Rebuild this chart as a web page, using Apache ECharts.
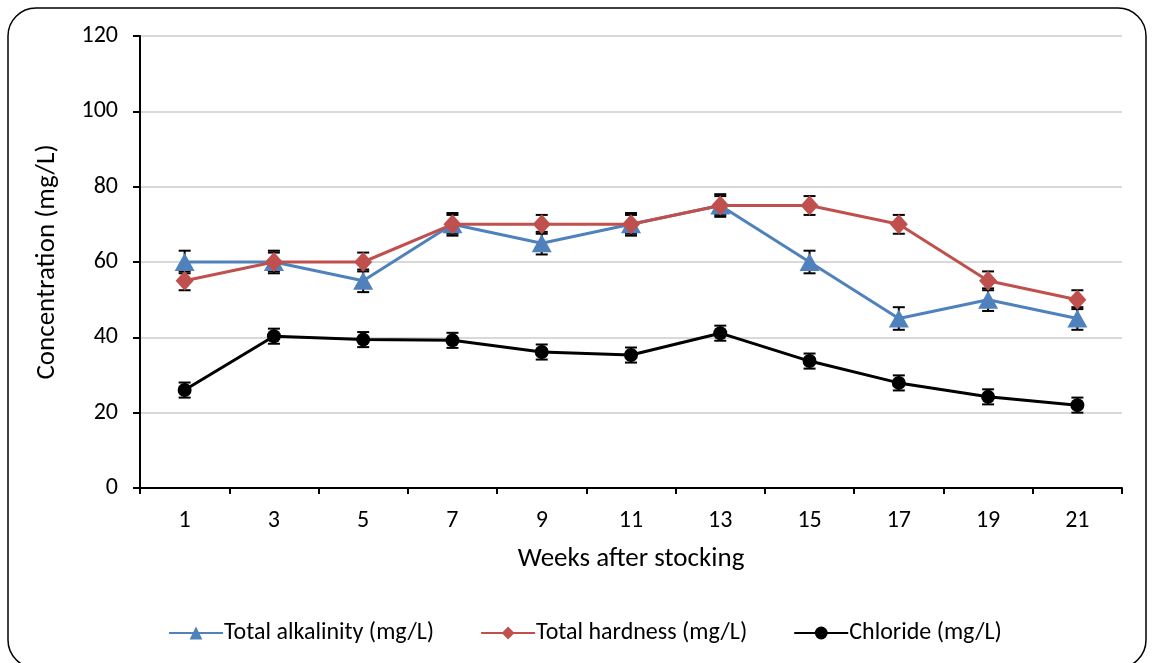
<!DOCTYPE html>
<html><head><meta charset="utf-8">
<script src="https://cdn.jsdelivr.net/npm/echarts@6/dist/echarts.min.js"></script>
<style>html,body{margin:0;padding:0;background:#fff}#c{width:1154px;height:663px}</style>
</head><body><div id="c"></div>
<script>
const weeks = ['1','3','5','7','9','11','13','15','17','19','21'];
const alkalinity = [60,60,55,70,65,70,75,60,45,50,45];
const alkalinityErr = [3,3,3,3,3,3,3,3,3,3,3];
const hardness = [55,60,60,70,70,70,75,75,70,55,50];
const hardnessErr = [2.5,2.5,2.5,2.5,2.5,2.5,2.5,2.5,2.5,2.5,2.5];
const chloride = [26.0,40.3,39.4,39.2,36.1,35.3,41.1,33.7,27.9,24.2,22.0];
const chlorideErr = [2,2,2,2,2,2,2,2,2,2,2];
const yTicks = [0,20,40,60,80,100,120];

const FONT = "Carlito, 'Open Sans', 'Noto Sans', sans-serif";

function errSeries(vals, errs, z){
  return {
    type:'custom', z:z, silent:true,
    data: vals.map((v,i)=>[i, v-errs[i], v+errs[i]]),
    renderItem: function(params, api){
      const lo = api.coord([api.value(0), api.value(1)]);
      const hi = api.coord([api.value(0), api.value(2)]);
      const w = 6;
      const st = {stroke:'#000', lineWidth:2};
      return {type:'group', children:[
        {type:'line', shape:{x1:lo[0],y1:lo[1],x2:hi[0],y2:hi[1]}, style:st},
        {type:'line', shape:{x1:lo[0]-w,y1:lo[1],x2:lo[0]+w,y2:lo[1]}, style:st},
        {type:'line', shape:{x1:hi[0]-w,y1:hi[1],x2:hi[0]+w,y2:hi[1]}, style:st}
      ]};
    }
  };
}

const chart = echarts.init(document.getElementById('c'));
chart.setOption({
  animation:false,
  textStyle:{fontFamily:FONT},
  graphic:[{type:'rect', shape:{x:8,y:8,width:1138,height:660,r:28}, style:{fill:'none', stroke:'#000', lineWidth:1.5}, z:-10}],
  grid:{left:140, right:32, top:36, bottom:175},
  legend:{
    data:['Total alkalinity (mg/L)','Total hardness (mg/L)','Chloride (mg/L)'],
    left:163, top:616, itemWidth:54, itemHeight:16, itemGap:46,
    textStyle:{fontSize:24, color:'#000', fontFamily:FONT, padding:[0,0,0,-4]}
  },
  xAxis:{
    type:'category', data:weeks, boundaryGap:true,
    name:'Weeks after stocking', nameLocation:'middle', nameGap:58,
    nameTextStyle:{fontSize:27, color:'#000', fontFamily:FONT},
    axisLine:{lineStyle:{color:'#000', width:2}},
    axisTick:{show:true, length:6, lineStyle:{color:'#000', width:2}},
    axisLabel:{fontSize:24, color:'#000', margin:21, fontFamily:FONT},
    splitLine:{show:false}
  },
  yAxis:{
    type:'value', min:0, max:120, interval:20,
    name:'Concentration (mg/L)', nameLocation:'middle', nameGap:79, nameRotate:90,
    nameTextStyle:{fontSize:27, color:'#000', fontFamily:FONT},
    axisLine:{show:true, lineStyle:{color:'#000', width:2}},
    axisTick:{show:true, length:7, lineStyle:{color:'#000', width:2}},
    axisLabel:{fontSize:24, color:'#000', margin:22, fontFamily:FONT,
      formatter:v=>yTicks.includes(v)?String(v):''},
    splitLine:{show:true, lineStyle:{color:'#d9d9d9', width:2}}
  },
  series:[
    errSeries(alkalinity, alkalinityErr, 1),
    errSeries(hardness, hardnessErr, 1),
    errSeries(chloride, chlorideErr, 1),
    {name:'Total alkalinity (mg/L)', type:'line', data:alkalinity, z:3,
      symbol:'triangle', symbolSize:[20,18], itemStyle:{color:'#4f81bd'},
      lineStyle:{color:'#4f81bd', width:3}},
    {name:'Total hardness (mg/L)', type:'line', data:hardness, z:4,
      symbol:'diamond', symbolSize:[18,20], itemStyle:{color:'#c0504d'},
      lineStyle:{color:'#c0504d', width:3}},
    {name:'Chloride (mg/L)', type:'line', data:chloride, z:5,
      symbol:'circle', symbolSize:14, itemStyle:{color:'#000'},
      lineStyle:{color:'#000', width:3}}
  ]
});
</script></body></html>
